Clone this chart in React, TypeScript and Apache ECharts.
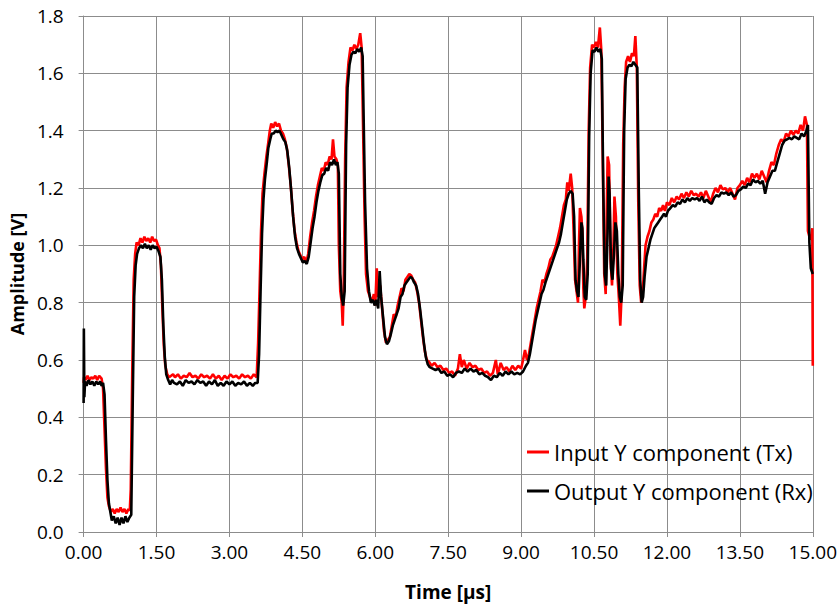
import React, { useEffect, useRef } from "react";
import * as echarts from "echarts";

const xTicks = { min: 0, max: 15, step: 1.5 };
const yTicks = { min: 0, max: 1.8, step: 0.2 };
const seriesNames = ["Input Y component (Tx)", "Output Y component (Rx)"];

// Input Y component (Tx) — [time µs, amplitude V]
const inputY: [number, number][] = [
  [0, 0.52], [0.01, 0.54], [0.04, 0.53], [0.08, 0.545], [0.12, 0.53], [0.16, 0.54], [0.2, 0.535], [0.24, 0.545], [0.28, 0.53], [0.32, 0.545],
  [0.37, 0.535], [0.4, 0.5], [0.43, 0.36], [0.46, 0.22], [0.49, 0.12], [0.52, 0.09], [0.56, 0.07], [0.6, 0.08], [0.64, 0.065], [0.68, 0.08],
  [0.72, 0.07], [0.76, 0.085], [0.8, 0.07], [0.84, 0.08], [0.88, 0.065], [0.92, 0.08], [0.95, 0.075], [0.97, 0.15], [1.0, 0.55], [1.03, 0.88],
  [1.06, 0.97], [1.09, 1.01], [1.13, 1.0], [1.17, 1.025], [1.21, 1.01], [1.25, 1.03], [1.29, 1.015], [1.33, 1.025], [1.37, 1.01], [1.41, 1.03],
  [1.45, 1.015], [1.49, 1.02], [1.53, 1.0], [1.56, 0.99], [1.59, 0.93], [1.62, 0.78], [1.65, 0.65], [1.68, 0.58], [1.72, 0.55], [1.76, 0.54],
  [1.8, 0.545], [1.84, 0.55], [1.88, 0.54], [1.94, 0.55], [2.0, 0.535], [2.06, 0.545], [2.12, 0.54], [2.18, 0.555], [2.24, 0.54], [2.3, 0.545],
  [2.36, 0.535], [2.42, 0.55], [2.48, 0.54], [2.54, 0.545], [2.6, 0.535], [2.66, 0.55], [2.72, 0.535], [2.78, 0.545], [2.84, 0.53], [2.9, 0.545],
  [2.96, 0.535], [3.02, 0.55], [3.08, 0.54], [3.14, 0.545], [3.2, 0.535], [3.26, 0.55], [3.32, 0.54], [3.38, 0.545], [3.44, 0.535], [3.5, 0.55],
  [3.56, 0.54], [3.59, 0.66], [3.62, 0.85], [3.65, 1.05], [3.68, 1.18], [3.72, 1.25], [3.76, 1.31], [3.8, 1.36], [3.83, 1.4], [3.86, 1.425],
  [3.9, 1.41], [3.94, 1.43], [3.98, 1.415], [4.02, 1.425], [4.06, 1.4], [4.1, 1.39], [4.14, 1.37], [4.18, 1.34], [4.22, 1.28], [4.26, 1.21],
  [4.3, 1.12], [4.34, 1.05], [4.38, 1.01], [4.42, 0.98], [4.46, 0.965], [4.5, 0.95], [4.54, 0.96], [4.58, 0.94], [4.62, 0.97], [4.66, 1.03],
  [4.7, 1.08], [4.74, 1.12], [4.78, 1.17], [4.82, 1.21], [4.86, 1.24], [4.9, 1.27], [4.94, 1.26], [4.98, 1.29], [5.02, 1.28], [5.06, 1.31],
  [5.1, 1.3], [5.13, 1.37], [5.16, 1.31], [5.2, 1.3], [5.23, 1.28], [5.25, 1.0], [5.28, 0.84], [5.31, 0.8], [5.33, 0.72], [5.35, 0.85],
  [5.38, 1.3], [5.41, 1.55], [5.45, 1.64], [5.49, 1.69], [5.53, 1.68], [5.57, 1.7], [5.61, 1.685], [5.65, 1.7], [5.69, 1.74], [5.72, 1.69],
  [5.75, 1.4], [5.78, 1.1], [5.81, 0.9], [5.85, 0.84], [5.89, 0.82], [5.93, 0.8], [5.97, 0.83], [6.0, 0.79], [6.03, 0.92], [6.06, 0.82],
  [6.1, 0.86], [6.14, 0.78], [6.18, 0.7], [6.22, 0.66], [6.26, 0.67], [6.3, 0.68], [6.34, 0.72], [6.38, 0.76], [6.42, 0.75], [6.46, 0.79],
  [6.5, 0.82], [6.54, 0.85], [6.58, 0.84], [6.62, 0.88], [6.66, 0.89], [6.7, 0.9], [6.74, 0.895], [6.78, 0.88], [6.82, 0.87], [6.86, 0.84],
  [6.9, 0.8], [6.94, 0.74], [6.98, 0.68], [7.02, 0.63], [7.06, 0.6], [7.1, 0.595], [7.16, 0.58], [7.22, 0.59], [7.28, 0.575], [7.34, 0.58],
  [7.4, 0.565], [7.46, 0.57], [7.52, 0.555], [7.58, 0.56], [7.64, 0.545], [7.7, 0.57], [7.74, 0.62], [7.78, 0.575], [7.82, 0.6], [7.88, 0.57],
  [7.94, 0.59], [8.0, 0.575], [8.06, 0.58], [8.12, 0.565], [8.18, 0.57], [8.24, 0.555], [8.3, 0.56], [8.36, 0.545], [8.42, 0.555], [8.48, 0.6],
  [8.52, 0.55], [8.58, 0.59], [8.64, 0.565], [8.7, 0.575], [8.76, 0.56], [8.82, 0.58], [8.88, 0.565], [8.94, 0.58], [9.0, 0.57], [9.04, 0.6],
  [9.08, 0.635], [9.12, 0.6], [9.16, 0.62], [9.2, 0.66], [9.24, 0.7], [9.28, 0.74], [9.32, 0.78], [9.36, 0.81], [9.4, 0.84], [9.44, 0.88],
  [9.48, 0.87], [9.52, 0.9], [9.56, 0.92], [9.6, 0.95], [9.64, 0.96], [9.68, 0.98], [9.72, 1.0], [9.76, 1.03], [9.8, 1.06], [9.84, 1.1],
  [9.88, 1.14], [9.92, 1.16], [9.95, 1.22], [9.98, 1.19], [10.02, 1.25], [10.05, 1.2], [10.08, 1.05], [10.11, 0.88], [10.14, 0.84], [10.17, 0.8],
  [10.19, 1.0], [10.21, 1.13], [10.24, 1.1], [10.26, 1.05], [10.28, 0.85], [10.3, 0.78], [10.33, 0.82], [10.36, 0.95], [10.39, 1.4], [10.42, 1.62],
  [10.46, 1.7], [10.5, 1.69], [10.54, 1.71], [10.58, 1.69], [10.62, 1.76], [10.65, 1.68], [10.68, 1.3], [10.71, 0.9], [10.74, 0.83], [10.76, 1.1],
  [10.78, 1.31], [10.81, 1.28], [10.84, 0.95], [10.87, 0.86], [10.9, 1.0], [10.92, 1.17], [10.95, 1.1], [10.98, 0.9], [11.01, 0.82], [11.04, 0.72],
  [11.07, 0.84], [11.1, 1.35], [11.13, 1.55], [11.16, 1.64], [11.2, 1.66], [11.24, 1.64], [11.28, 1.67], [11.32, 1.66], [11.35, 1.73], [11.38, 1.62],
  [11.41, 1.15], [11.44, 0.86], [11.47, 0.8], [11.5, 0.83], [11.53, 0.92], [11.56, 1.0], [11.6, 1.03], [11.64, 1.05], [11.68, 1.08], [11.72, 1.09],
  [11.76, 1.11], [11.8, 1.1], [11.84, 1.13], [11.88, 1.12], [11.92, 1.14], [11.96, 1.12], [12.0, 1.15], [12.05, 1.14], [12.1, 1.165], [12.15, 1.15],
  [12.2, 1.17], [12.25, 1.16], [12.3, 1.18], [12.35, 1.165], [12.4, 1.185], [12.45, 1.17], [12.5, 1.19], [12.55, 1.175], [12.6, 1.18], [12.65, 1.17],
  [12.7, 1.185], [12.75, 1.165], [12.8, 1.19], [12.85, 1.17], [12.9, 1.15], [12.95, 1.18], [13.0, 1.2], [13.05, 1.185], [13.1, 1.21], [13.15, 1.195],
  [13.2, 1.2], [13.25, 1.185], [13.3, 1.2], [13.35, 1.18], [13.4, 1.16], [13.45, 1.2], [13.5, 1.21], [13.55, 1.225], [13.6, 1.21], [13.65, 1.235],
  [13.7, 1.22], [13.75, 1.25], [13.8, 1.235], [13.85, 1.25], [13.9, 1.23], [13.95, 1.26], [14.0, 1.24], [14.05, 1.22], [14.1, 1.26], [14.15, 1.29],
  [14.2, 1.28], [14.25, 1.32], [14.3, 1.35], [14.35, 1.37], [14.4, 1.36], [14.45, 1.39], [14.5, 1.38], [14.55, 1.4], [14.6, 1.385], [14.65, 1.4],
  [14.7, 1.39], [14.75, 1.42], [14.8, 1.4], [14.84, 1.45], [14.88, 1.42], [14.9, 1.05], [14.93, 1.03], [14.96, 1.02], [14.99, 1.06], [15.0, 0.58],
];

// Output Y component (Rx) — [time µs, amplitude V]
const outputY: [number, number][] = [
  [0, 0.45], [0.005, 0.71], [0.015, 0.47], [0.03, 0.525], [0.06, 0.51], [0.1, 0.53], [0.14, 0.515], [0.18, 0.525], [0.22, 0.51], [0.26, 0.525],
  [0.3, 0.515], [0.34, 0.525], [0.37, 0.51], [0.4, 0.52], [0.43, 0.48], [0.46, 0.32], [0.49, 0.18], [0.52, 0.1], [0.55, 0.07], [0.58, 0.04],
  [0.62, 0.055], [0.66, 0.03], [0.7, 0.05], [0.74, 0.025], [0.78, 0.05], [0.82, 0.03], [0.86, 0.055], [0.9, 0.035], [0.94, 0.05], [0.98, 0.06],
  [1.01, 0.45], [1.04, 0.82], [1.07, 0.93], [1.1, 0.97], [1.14, 0.99], [1.18, 1.0], [1.22, 0.99], [1.26, 1.005], [1.3, 0.99], [1.34, 1.0],
  [1.38, 0.985], [1.42, 1.0], [1.46, 0.99], [1.5, 0.995], [1.54, 0.98], [1.58, 0.96], [1.61, 0.88], [1.64, 0.72], [1.67, 0.61], [1.7, 0.55],
  [1.74, 0.53], [1.78, 0.515], [1.82, 0.53], [1.86, 0.52], [1.92, 0.515], [1.98, 0.525], [2.04, 0.51], [2.1, 0.53], [2.16, 0.52], [2.22, 0.525],
  [2.28, 0.515], [2.34, 0.53], [2.4, 0.52], [2.46, 0.525], [2.52, 0.51], [2.58, 0.525], [2.64, 0.515], [2.7, 0.53], [2.76, 0.51], [2.82, 0.52],
  [2.88, 0.51], [2.94, 0.525], [3.0, 0.515], [3.06, 0.525], [3.12, 0.51], [3.18, 0.52], [3.24, 0.515], [3.3, 0.525], [3.36, 0.51], [3.42, 0.52],
  [3.48, 0.51], [3.53, 0.52], [3.58, 0.52], [3.61, 0.62], [3.64, 0.84], [3.67, 1.04], [3.7, 1.16], [3.73, 1.23], [3.77, 1.29], [3.8, 1.34],
  [3.84, 1.37], [3.87, 1.39], [3.91, 1.39], [3.95, 1.4], [3.99, 1.395], [4.03, 1.4], [4.07, 1.385], [4.11, 1.37], [4.15, 1.36], [4.19, 1.33],
  [4.23, 1.27], [4.27, 1.19], [4.31, 1.1], [4.35, 1.03], [4.39, 0.99], [4.43, 0.97], [4.47, 0.955], [4.51, 0.94], [4.55, 0.945], [4.59, 0.935],
  [4.63, 0.96], [4.67, 1.01], [4.71, 1.06], [4.75, 1.1], [4.79, 1.15], [4.83, 1.19], [4.87, 1.22], [4.91, 1.245], [4.95, 1.25], [4.99, 1.27],
  [5.03, 1.26], [5.07, 1.29], [5.11, 1.28], [5.15, 1.3], [5.19, 1.28], [5.22, 1.29], [5.25, 1.25], [5.28, 0.9], [5.31, 0.82], [5.34, 0.79],
  [5.37, 0.84], [5.4, 1.35], [5.43, 1.55], [5.47, 1.63], [5.51, 1.665], [5.55, 1.675], [5.59, 1.67], [5.63, 1.685], [5.67, 1.675], [5.71, 1.69],
  [5.74, 1.66], [5.76, 1.45], [5.79, 1.15], [5.83, 0.92], [5.87, 0.84], [5.91, 0.8], [5.95, 0.81], [5.99, 0.79], [6.02, 0.81], [6.06, 0.78],
  [6.09, 0.91], [6.12, 0.82], [6.16, 0.75], [6.2, 0.68], [6.24, 0.655], [6.28, 0.665], [6.32, 0.69], [6.36, 0.72], [6.4, 0.74], [6.44, 0.76],
  [6.48, 0.78], [6.52, 0.82], [6.56, 0.83], [6.6, 0.86], [6.64, 0.87], [6.68, 0.88], [6.72, 0.89], [6.76, 0.885], [6.8, 0.87], [6.84, 0.86],
  [6.88, 0.83], [6.92, 0.78], [6.96, 0.72], [7.0, 0.66], [7.04, 0.61], [7.08, 0.585], [7.12, 0.575], [7.18, 0.57], [7.24, 0.565], [7.3, 0.57],
  [7.36, 0.555], [7.42, 0.56], [7.48, 0.545], [7.54, 0.55], [7.6, 0.54], [7.66, 0.555], [7.72, 0.56], [7.78, 0.555], [7.84, 0.57], [7.9, 0.56],
  [7.96, 0.57], [8.02, 0.56], [8.08, 0.565], [8.14, 0.55], [8.2, 0.555], [8.26, 0.545], [8.32, 0.54], [8.38, 0.53], [8.44, 0.545], [8.5, 0.54],
  [8.56, 0.555], [8.62, 0.545], [8.68, 0.56], [8.74, 0.55], [8.8, 0.56], [8.86, 0.55], [8.92, 0.555], [8.98, 0.55], [9.04, 0.56], [9.1, 0.58],
  [9.14, 0.59], [9.18, 0.62], [9.22, 0.66], [9.26, 0.7], [9.3, 0.74], [9.34, 0.77], [9.38, 0.8], [9.42, 0.83], [9.46, 0.845], [9.5, 0.87],
  [9.54, 0.89], [9.58, 0.91], [9.62, 0.93], [9.66, 0.95], [9.7, 0.97], [9.74, 0.99], [9.78, 1.01], [9.82, 1.04], [9.86, 1.08], [9.9, 1.12],
  [9.94, 1.16], [9.98, 1.18], [10.02, 1.19], [10.06, 1.18], [10.09, 1.1], [10.12, 0.88], [10.15, 0.84], [10.18, 0.82], [10.21, 0.95], [10.24, 1.08],
  [10.26, 1.06], [10.28, 0.95], [10.31, 0.82], [10.34, 0.81], [10.37, 0.9], [10.4, 1.38], [10.43, 1.6], [10.47, 1.68], [10.51, 1.675], [10.55, 1.69],
  [10.59, 1.675], [10.63, 1.685], [10.66, 1.65], [10.69, 1.2], [10.72, 0.9], [10.75, 0.86], [10.78, 1.05], [10.8, 1.24], [10.82, 1.18], [10.85, 0.92],
  [10.88, 0.88], [10.91, 0.97], [10.94, 1.08], [10.97, 1.05], [11.0, 0.9], [11.03, 0.82], [11.06, 0.8], [11.09, 0.86], [11.12, 1.4], [11.15, 1.58],
  [11.19, 1.62], [11.23, 1.63], [11.27, 1.625], [11.31, 1.64], [11.35, 1.63], [11.39, 1.62], [11.42, 1.2], [11.45, 0.88], [11.48, 0.8], [11.51, 0.82],
  [11.54, 0.89], [11.58, 0.96], [11.62, 0.99], [11.66, 1.02], [11.7, 1.04], [11.74, 1.06], [11.78, 1.07], [11.82, 1.08], [11.86, 1.09], [11.9, 1.1],
  [11.94, 1.11], [11.98, 1.1], [12.02, 1.12], [12.07, 1.13], [12.12, 1.14], [12.17, 1.135], [12.22, 1.15], [12.27, 1.145], [12.32, 1.16], [12.37, 1.15],
  [12.42, 1.165], [12.47, 1.155], [12.52, 1.165], [12.57, 1.16], [12.62, 1.165], [12.67, 1.155], [12.72, 1.17], [12.77, 1.15], [12.82, 1.16], [12.87, 1.15],
  [12.92, 1.145], [12.97, 1.165], [13.02, 1.175], [13.07, 1.17], [13.12, 1.185], [13.17, 1.18], [13.22, 1.185], [13.27, 1.175], [13.32, 1.185], [13.37, 1.17],
  [13.42, 1.175], [13.47, 1.19], [13.52, 1.195], [13.57, 1.205], [13.62, 1.2], [13.67, 1.215], [13.72, 1.21], [13.77, 1.23], [13.82, 1.22], [13.87, 1.225],
  [13.92, 1.215], [13.97, 1.225], [14.02, 1.18], [14.07, 1.22], [14.12, 1.24], [14.17, 1.26], [14.22, 1.26], [14.27, 1.29], [14.32, 1.32], [14.37, 1.35],
  [14.42, 1.365], [14.47, 1.37], [14.52, 1.375], [14.57, 1.37], [14.62, 1.38], [14.67, 1.375], [14.72, 1.37], [14.77, 1.39], [14.82, 1.38], [14.87, 1.4],
  [14.9, 1.42], [14.93, 1.01], [14.96, 0.92], [15.0, 0.9],
];

const FONT = "'Open Sans', 'Noto Sans', sans-serif";
const GRID_COLOR = "#8c8c8c";

export default function App() {
  const ref = useRef<HTMLDivElement>(null);

  useEffect(() => {
    if (!ref.current) return;
    const chart = echarts.init(ref.current, undefined, { renderer: "svg" });
    chart.setOption({
      animation: false,
      backgroundColor: "#ffffff",
      grid: { left: 82, right: 27, top: 16, bottom: 75, containLabel: false },
      legend: {
        orient: "vertical",
        left: 527,
        top: 441,
        padding: 0,
        itemGap: 17,
        itemWidth: 22,
        itemHeight: 3,
        icon: "rect",
        textStyle: { fontFamily: FONT, fontSize: 22, color: "#000" },
        data: seriesNames,
      },
      xAxis: {
        type: "value",
        min: xTicks.min,
        max: xTicks.max,
        interval: xTicks.step,
        name: "Time [µs]",
        nameLocation: "middle",
        nameGap: 50,
        nameTextStyle: { fontFamily: FONT, fontSize: 19, fontWeight: "bold", color: "#000" },
        axisLine: { show: true, lineStyle: { color: GRID_COLOR, width: 1 } },
        axisTick: { show: true, length: 5, lineStyle: { color: GRID_COLOR } },
        axisLabel: {
          margin: 10,
          fontFamily: FONT,
          fontSize: 19,
          color: "#000",
          formatter: (v: number) => v.toFixed(2),
        },
        splitLine: { show: true, lineStyle: { color: GRID_COLOR, width: 1 } },
      },
      yAxis: {
        type: "value",
        min: yTicks.min,
        max: yTicks.max,
        interval: yTicks.step,
        name: "Amplitude [V]",
        nameLocation: "middle",
        nameGap: 48,
        nameRotate: 90,
        nameTextStyle: { fontFamily: FONT, fontSize: 18, fontWeight: "bold", color: "#000" },
        axisLine: { show: true, lineStyle: { color: GRID_COLOR, width: 1 } },
        axisTick: { show: true, length: 5, lineStyle: { color: GRID_COLOR } },
        axisLabel: {
          margin: 20,
          fontFamily: FONT,
          fontSize: 19,
          color: "#000",
          formatter: (v: number) => v.toFixed(1),
        },
        splitLine: { show: true, lineStyle: { color: GRID_COLOR, width: 1 } },
      },
      series: [
        {
          name: seriesNames[0],
          type: "line",
          data: inputY,
          showSymbol: false,
          symbol: "none",
          color: "#ff0000",
          lineStyle: { color: "#ff0000", width: 2.6 },
          z: 2,
        },
        {
          name: seriesNames[1],
          type: "line",
          data: outputY,
          showSymbol: false,
          symbol: "none",
          color: "#000000",
          lineStyle: { color: "#000000", width: 2.6 },
          z: 3,
        },
      ],
    });
    return () => chart.dispose();
  }, []);

  return (
    <div
      ref={ref}
      style={{ position: "fixed", left: 0, top: 0, width: 840, height: 607 }}
    />
  );
}
